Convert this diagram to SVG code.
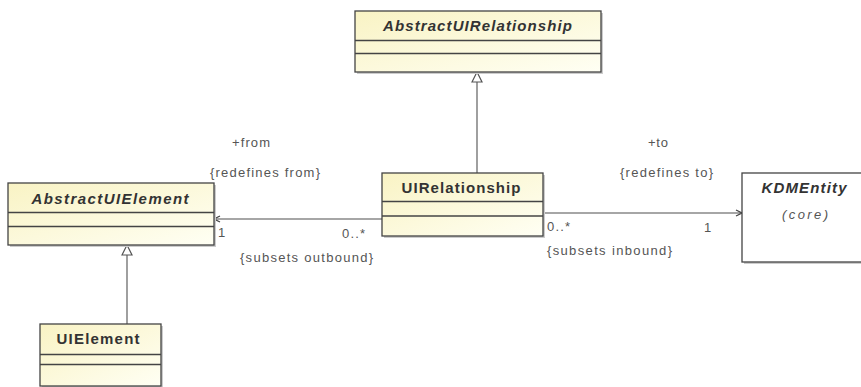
<svg xmlns="http://www.w3.org/2000/svg" width="861" height="387" viewBox="0 0 861 387">
<defs>
<linearGradient id="yel" x1="0" y1="0" x2="1" y2="1">
<stop offset="0" stop-color="#f9f3c4"/>
<stop offset="1" stop-color="#fffff4"/>
</linearGradient>
<marker id="tri" markerWidth="12" markerHeight="12" refX="11" refY="6" orient="auto" markerUnits="userSpaceOnUse">
<path d="M1,1 L11,6 L1,11 Z" fill="#fff" stroke="#555" stroke-width="1.2"/>
</marker>
<marker id="open" markerWidth="8" markerHeight="8" refX="7" refY="4" orient="auto" markerUnits="userSpaceOnUse">
<path d="M1,1 L7,4 L1,7" fill="none" stroke="#444" stroke-width="1.3"/>
</marker>
</defs>
<style>
.box{fill:url(#yel);stroke:#444;stroke-width:1.3}
.wbox{fill:#fff;stroke:#444;stroke-width:1.3}
.sh{fill:#ccc}
.div{stroke:#444;stroke-width:1.3}
.t{font-family:"Liberation Sans",Arial,sans-serif;font-size:15px;font-weight:bold;fill:#333}
.ti{font-style:italic}
.l{font-family:"Liberation Sans",Arial,sans-serif;font-size:13px;fill:#555}
.c{stroke:#888;stroke-width:1.6;fill:none}
</style>
<rect width="861" height="387" fill="#fff"/>
<g id="connectors">
<line class="c" x1="477" y1="173" x2="477" y2="72" marker-end="url(#tri)"/>
<line class="c" x1="127" y1="324" x2="127" y2="245" marker-end="url(#tri)"/>
<line class="c" x1="382" y1="219" x2="214" y2="219" marker-end="url(#open)"/>
<line class="c" x1="543" y1="213" x2="742" y2="213" marker-end="url(#open)"/>
<text class="l" x="251" y="147" text-anchor="middle" textLength="38">+from</text>
<text class="l" x="210" y="177" textLength="110">{redefines from}</text>
<text class="l" x="218" y="237">1</text>
<text class="l" x="342" y="238" textLength="23">0..*</text>
<text class="l" x="240" y="262" textLength="133">{subsets outbound}</text>
<text class="l" x="658" y="147" text-anchor="middle" textLength="20">+to</text>
<text class="l" x="620" y="177" textLength="93">{redefines to}</text>
<text class="l" x="547" y="231" textLength="23">0..*</text>
<text class="l" x="704" y="232">1</text>
<text class="l" x="547" y="255" textLength="125">{subsets inbound}</text>
</g>
<g id="AbstractUIRelationship">
<rect class="sh" x="357" y="13" width="246" height="61"/>
<rect class="box" x="355" y="11" width="246" height="61"/>
<line class="div" x1="355" y1="40.5" x2="601" y2="40.5"/>
<line class="div" x1="355" y1="53.5" x2="601" y2="53.5"/>
<text class="t ti" x="477.5" y="31" text-anchor="middle" textLength="189">AbstractUIRelationship</text>
</g>
<g id="AbstractUIElement">
<rect class="sh" x="10" y="185" width="206" height="62"/>
<rect class="box" x="8" y="183" width="206" height="62"/>
<line class="div" x1="8" y1="212.5" x2="214" y2="212.5"/>
<line class="div" x1="8" y1="226.5" x2="214" y2="226.5"/>
<text class="t ti" x="110" y="204" text-anchor="middle" textLength="157">AbstractUIElement</text>
</g>
<g id="UIRelationship">
<rect class="sh" x="384" y="175" width="161" height="63"/>
<rect class="box" x="382" y="173" width="161" height="63"/>
<line class="div" x1="382" y1="201.5" x2="543" y2="201.5"/>
<line class="div" x1="382" y1="216" x2="543" y2="216"/>
<text class="t" x="461" y="193" text-anchor="middle" textLength="119">UIRelationship</text>
</g>
<g id="KDMEntity">
<rect class="sh" x="744" y="175" width="130" height="89"/>
<rect class="wbox" x="742" y="173" width="130" height="89"/>
<text class="t ti" x="804" y="193" text-anchor="middle" textLength="85">KDMEntity</text>
<text class="l" x="805" y="219" text-anchor="middle" font-style="italic" textLength="46">(core)</text>
</g>
<g id="UIElement">
<rect class="sh" x="42" y="326" width="121" height="62"/>
<rect class="box" x="40" y="324" width="121" height="62"/>
<line class="div" x1="40" y1="354.5" x2="161" y2="354.5"/>
<line class="div" x1="40" y1="364.5" x2="161" y2="364.5"/>
<text class="t" x="98" y="344" text-anchor="middle" textLength="83">UIElement</text>
</g>
</svg>
